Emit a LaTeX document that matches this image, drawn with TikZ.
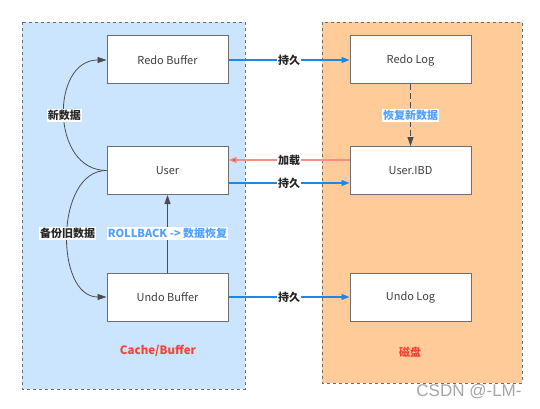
\documentclass[tikz,border=0pt]{standalone}
\usepackage{fontspec}
\setmainfont{Noto Sans CJK SC}
\newfontfamily\wmfont{Liberation Sans}
\usetikzlibrary{positioning,arrows.meta}
\definecolor{cachebg}{RGB}{204,229,255}
\definecolor{diskbg}{RGB}{255,204,153}
\definecolor{boxline}{RGB}{110,110,110}
\definecolor{persistblue}{RGB}{30,136,229}
\definecolor{loadred}{RGB}{244,67,54}
\definecolor{labelblue}{RGB}{80,160,255}

\begin{document}
\begin{tikzpicture}[x=1pt, y=-1pt, font=\fontsize{11}{13}\selectfont,
  area/.style={draw=boxline, dashed, line width=0.8pt},
  block/.style={draw=boxline, fill=white, line width=1pt, minimum width=121pt, minimum height=48pt, text=black!75},
  lbl/.style={fill=white, text=black!85, inner sep=1pt, font=\fontsize{11}{13}\selectfont\bfseries},
  persist/.style={color=persistblue, line width=1.2pt, -{Triangle[length=8pt,width=6pt]}},
  flow/.style={color=black!70, line width=0.8pt, -{Triangle[length=9pt,width=6pt]}}]
  \useasboundingbox (0,0) rectangle (540,409);
  \filldraw[area, fill=cachebg] (22,22) rectangle (245,389);
  \filldraw[area, fill=diskbg] (322,22) rectangle (522,383);
  % memory side
  \node[block] (redobuf) at (167.5,60) {Redo Buffer};
  \node[block, below=61.5pt of redobuf] (user) {User};
  \node[block, below=77.5pt of user] (undobuf) {Undo Buffer};
  % disk side
  \node[block] (redolog) at (410.5,60) {Redo Log};
  \node[block, below=61.5pt of redolog] (ibd) {User.IBD};
  \node[block, below=77.5pt of ibd] (undolog) {Undo Log};
  % persisting
  \draw[persist] (redobuf.east) -- node[lbl] {持久} (redolog.west);
  \draw[persist] ([yshift=-12.5pt]user.east) -- node[lbl] {持久} ([yshift=-12.5pt]ibd.west);
  \draw[persist] (undobuf.east) -- node[lbl] {持久} (undolog.west);
  \draw[color=loadred!60, line width=1.2pt, -{Triangle[length=8pt,width=6pt,fill=loadred]}]
    ([yshift=10.5pt]ibd.west) -- node[lbl] {加载} ([yshift=10.5pt]user.east);
  \draw[flow, dash pattern=on 6pt off 3pt] (redolog.south) -- node[lbl, text=labelblue] {恢复新数据} (ibd.north);
  % buffers
  \draw[flow] (user.west) to[out=180, in=180, looseness=1.3] node[lbl] {新数据} (redobuf.west);
  \draw[flow] (user.west) to[out=180, in=180, looseness=1.05] node[lbl] {备份旧数据} (undobuf.west);
  \draw[flow] (undobuf.north) -- node[lbl, text=labelblue] {ROLLBACK -> 数据恢复} (user.south);
  \node[font=\fontsize{11.5}{13}\selectfont\bfseries, text=loadred] (cachelbl) at (158,351) {Cache/Buffer};
  \node[font=\fontsize{11}{13}\selectfont\bfseries, text=loadred] (disklbl) at (410,352) {磁盘};
  \node[font=\fontsize{17}{19}\wmfont, text=black!35] (mark) at (469,392) {CSDN @-LM-};
\end{tikzpicture}
\end{document}
